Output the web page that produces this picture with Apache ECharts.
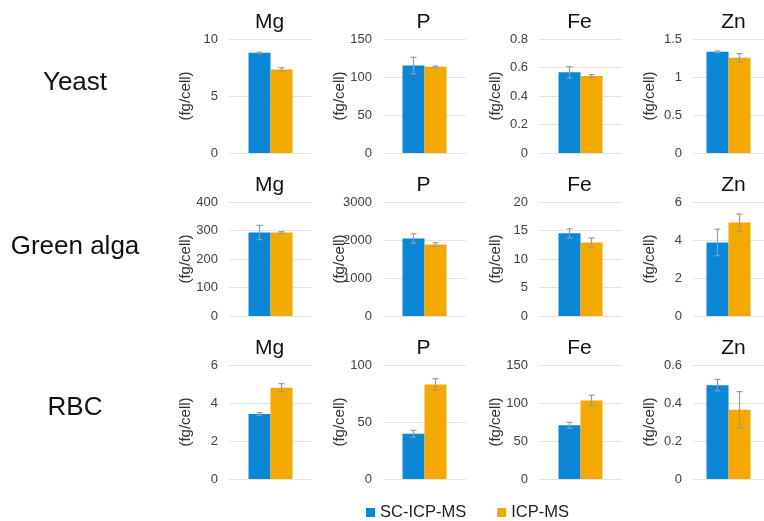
<!DOCTYPE html>
<html><head><meta charset="utf-8">
<script src="https://cdn.jsdelivr.net/npm/echarts@6/dist/echarts.min.js"></script>
<style>html,body{margin:0;padding:0;background:#fff}#c{width:764px;height:521px}</style>
</head><body><div id="c"></div>
<script>
const rowLabels = ['Yeast', 'Green alga', 'RBC'];
const elements = ['Mg', 'P', 'Fe', 'Zn'];
const seriesNames = ['SC-ICP-MS', 'ICP-MS'];
// values per row (Yeast, Green alga, RBC), per element (Mg, P, Fe, Zn)
const scValues = [
  [8.8, 115, 0.566, 1.332],
  [293, 2040, 14.5, 3.87],
  [3.42, 39.7, 70.6, 0.494]
];
const scErrors = [
  [0.04, 11, 0.04, 0.01],
  [25, 120, 0.8, 0.7],
  [0.07, 3, 4, 0.03]
];
const icpValues = [
  [7.33, 113.5, 0.54, 1.253],
  [293, 1880, 12.9, 4.92],
  [4.8, 83, 103.3, 0.365]
];
const icpErrors = [
  [0.15, 1, 0.01, 0.055],
  [3, 50, 0.8, 0.45],
  [0.22, 5, 7, 0.095]
];
const axisMax = [
  [10, 150, 0.8, 1.5],
  [400, 3000, 20, 6],
  [6, 100, 150, 0.6]
];
const axisInterval = [
  [5, 50, 0.2, 0.5],
  [100, 1000, 5, 2],
  [2, 50, 50, 0.2]
];
const yName = '(fg/cell)';

const colors = ['#0a86d6', '#f3a900'];
const gridLeft = [229, 383, 539, 693];
const gridTop = [39, 202, 365];
const gridW = 83, gridH = 114;
const barW = 22;
const FONT = 'Liberation Sans, Arial, sans-serif';

const grids = [], xAxes = [], yAxes = [], series = [], texts = [];
let gi = 0;
for (let r = 0; r < 3; r++) {
  for (let c = 0; c < 4; c++) {
    grids.push({left: gridLeft[c], top: gridTop[r], width: gridW, height: gridH});
    xAxes.push({type: 'category', gridIndex: gi, data: [''], axisLine: {show: false}, axisTick: {show: false}, axisLabel: {show: false}});
    const wide = axisMax[r][c] >= 1000;
    yAxes.push({type: 'value', gridIndex: gi, min: 0, max: axisMax[r][c], interval: axisInterval[r][c],
      name: yName, nameLocation: 'middle', nameGap: 36, nameRotate: 90, nameMoveOverlap: false,
      nameTextStyle: {fontFamily: FONT, fontSize: 15, color: '#333'},
      axisLabel: {fontFamily: FONT, fontSize: 13, color: '#404040', margin: 11,
        formatter: v => String(+v.toFixed(4))},
      axisLine: {show: false}, axisTick: {show: false},
      splitLine: {lineStyle: {color: '#e3e3e3', width: 1}}});
    series.push({type: 'bar', name: seriesNames[0], xAxisIndex: gi, yAxisIndex: gi, barWidth: barW, barGap: '0%',
      itemStyle: {color: colors[0]}, data: [scValues[r][c]]});
    series.push({type: 'bar', name: seriesNames[1], xAxisIndex: gi, yAxisIndex: gi, barWidth: barW, barGap: '0%',
      itemStyle: {color: colors[1]}, data: [icpValues[r][c]]});
    series.push({type: 'custom', xAxisIndex: gi, yAxisIndex: gi, z: 10, silent: true,
      data: [
        [0, scValues[r][c] - scErrors[r][c], scValues[r][c] + scErrors[r][c], -1],
        [0, icpValues[r][c] - icpErrors[r][c], icpValues[r][c] + icpErrors[r][c], 1]
      ],
      renderItem: function (params, api) {
        const off = api.value(3) * barW / 2;
        const lo = api.coord([api.value(0), api.value(1)]);
        const hi = api.coord([api.value(0), api.value(2)]);
        const x = lo[0] + off;
        const cap = 3;
        const st = {stroke: '#9a9a9a', lineWidth: 1.2};
        return {type: 'group', children: [
          {type: 'line', shape: {x1: x, y1: lo[1], x2: x, y2: hi[1]}, style: st},
          {type: 'line', shape: {x1: x - cap, y1: lo[1], x2: x + cap, y2: lo[1]}, style: st},
          {type: 'line', shape: {x1: x - cap, y1: hi[1], x2: x + cap, y2: hi[1]}, style: st}
        ]};
      }});
    texts.push({type: 'text', x: gridLeft[c] + gridW / 2 - 1, y: gridTop[r] - 16.5,
      style: {text: elements[c], font: '21px ' + FONT, fill: '#111', textAlign: 'center', textVerticalAlign: 'middle'}});
    gi++;
  }
}
const rowCenters = [83, 246.5, 408];
for (let r = 0; r < 3; r++) {
  texts.push({type: 'text', x: 75, y: rowCenters[r],
    style: {text: rowLabels[r], font: '26px ' + FONT, fill: '#111', textAlign: 'center', textVerticalAlign: 'middle'}});
}

const chart = echarts.init(document.getElementById('c'));
chart.setOption({
  animation: false,
  graphic: texts,
  grid: grids, xAxis: xAxes, yAxis: yAxes, series: series,
  legend: {data: seriesNames, left: 366, top: 504, padding: 0, itemWidth: 9, itemHeight: 9, itemGap: 31,
    icon: 'rect', textStyle: {fontFamily: FONT, fontSize: 16.5, color: '#222'}}
});
</script></body></html>
